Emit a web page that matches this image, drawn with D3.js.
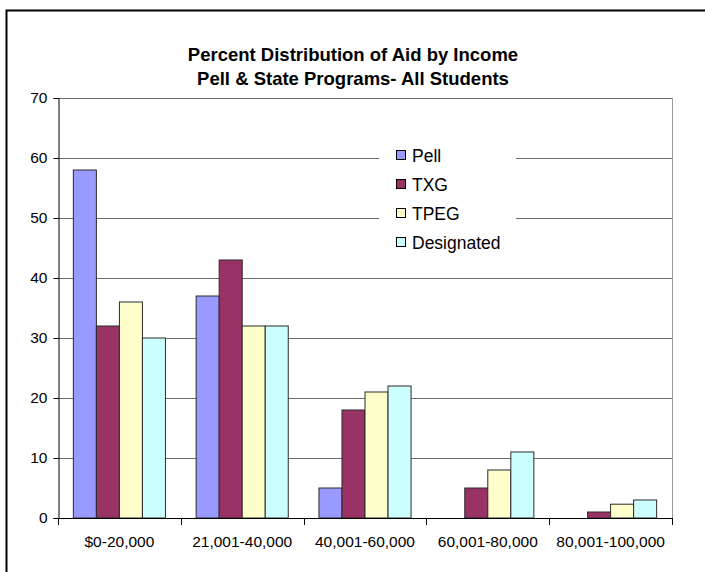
<!DOCTYPE html>
<html>
<head>
<meta charset="utf-8">
<script src="https://cdn.jsdelivr.net/npm/d3@7"></script>
<style>
  html, body { margin: 0; padding: 0; background: #fff; }
  svg { display: block; font-family: "Liberation Sans", Arial, sans-serif; }
</style>
</head>
<body>
<svg id="chart" width="705" height="572"></svg>
<script>
const categories = ["$0-20,000", "21,001-40,000", "40,001-60,000", "60,001-80,000", "80,001-100,000"];
const seriesNames = ["Pell", "TXG", "TPEG", "Designated"];
const pell = [58, 37, 5, 0, 0];
const txg = [32, 43, 18, 5, 1];
const tpeg = [36, 32, 21, 8, 2.3];
const designated = [30, 32, 22, 11, 3];
const colors = ["#9999FF", "#993366", "#FFFFCC", "#CCFFFF"];
const yTicks = [0, 10, 20, 30, 40, 50, 60, 70];
const titleLines = ["Percent Distribution of Aid by Income", "Pell & State Programs- All Students"];

const seriesValues = [pell, txg, tpeg, designated];

const svg = d3.select("#chart");

// outer frame
svg.append("rect")
  .attr("x", 6.5).attr("y", 10.5)
  .attr("width", 720).attr("height", 600)
  .attr("fill", "none").attr("stroke", "#000").attr("stroke-width", 2);

const plot = { left: 58, right: 672, top: 98, bottom: 518 };

const x0 = d3.scaleBand().domain(categories).range([plot.left, plot.right]).paddingInner(0.25).paddingOuter(0.125);
const x1 = d3.scaleBand().domain(seriesNames).range([0, x0.bandwidth()]);
const y = d3.scaleLinear().domain([0, 70]).range([plot.bottom, plot.top]);

// gridlines
svg.append("g").selectAll("line").data(yTicks.filter(t => t > 0)).join("line")
  .attr("x1", plot.left).attr("x2", plot.right)
  .attr("y1", d => Math.round(y(d)) + 0.5).attr("y2", d => Math.round(y(d)) + 0.5)
  .attr("stroke", "#6b6b6b").attr("stroke-width", 1);

// right border of plot
svg.append("line")
  .attr("x1", plot.right + 0.5).attr("x2", plot.right + 0.5)
  .attr("y1", plot.top).attr("y2", plot.bottom)
  .attr("stroke", "#9a9a9a");

// bars
const groups = svg.append("g").selectAll("g").data(categories).join("g")
  .attr("transform", d => `translate(${x0(d)},0)`);
groups.selectAll("rect")
  .data((c, i) => seriesNames.map((s, j) => ({ s, v: seriesValues[j][i], j })))
  .join("rect")
  .filter(d => d.v > 0)
  .attr("x", d => x1(d.s))
  .attr("width", x1.bandwidth())
  .attr("y", d => y(d.v))
  .attr("height", d => y(0) - y(d.v))
  .attr("fill", d => colors[d.j])
  .attr("stroke", "#2a2a2a").attr("stroke-width", 1);

// y axis
const yAxis = d3.axisLeft(y).tickValues(yTicks).tickSize(5).tickPadding(6);
const gy = svg.append("g").attr("transform", `translate(${plot.left + 0.5},0)`).call(yAxis);
gy.select(".domain").attr("stroke", "#000");
gy.selectAll(".tick line").attr("stroke", "#000");
gy.selectAll(".tick text").attr("font-size", 15.5).attr("fill", "#000")
  .attr("font-family", "Liberation Sans, Arial, sans-serif");

// x axis
const boundaries = d3.range(categories.length + 1).map(i => plot.left + i * (plot.right - plot.left) / categories.length);
svg.append("line")
  .attr("x1", plot.left).attr("x2", plot.right + 1)
  .attr("y1", plot.bottom + 0.5).attr("y2", plot.bottom + 0.5)
  .attr("stroke", "#000");
svg.append("g").selectAll("line").data(boundaries).join("line")
  .attr("x1", d => Math.round(d) + 0.5).attr("x2", d => Math.round(d) + 0.5)
  .attr("y1", plot.bottom).attr("y2", plot.bottom + 7)
  .attr("stroke", "#000");
svg.append("g").selectAll("text").data(categories).join("text")
  .attr("x", d => x0(d) + x0.bandwidth() / 2)
  .attr("y", plot.bottom + 29)
  .attr("text-anchor", "middle")
  .attr("font-size", 15.5)
  .text(d => d);

// title
svg.append("g").selectAll("text").data(titleLines).join("text")
  .attr("x", 353)
  .attr("y", (d, i) => 61 + i * 24)
  .attr("text-anchor", "middle")
  .attr("font-size", 18.5)
  .attr("font-weight", "bold")
  .text(d => d);

// legend
const legend = svg.append("g").attr("transform", "translate(379,140)");
legend.append("rect").attr("width", 137).attr("height", 124).attr("fill", "#fff");
const items = legend.selectAll("g").data(seriesNames).join("g")
  .attr("transform", (d, i) => `translate(17,${15 + i * 29})`);
items.append("rect")
  .attr("x", 0.5).attr("y", -4.5).attr("width", 9).attr("height", 9)
  .attr("fill", (d, i) => colors[i]).attr("stroke", "#000");
items.append("text")
  .attr("x", 16).attr("y", 6.5)
  .attr("font-size", 17.5)
  .text(d => d);
</script>
</body>
</html>
